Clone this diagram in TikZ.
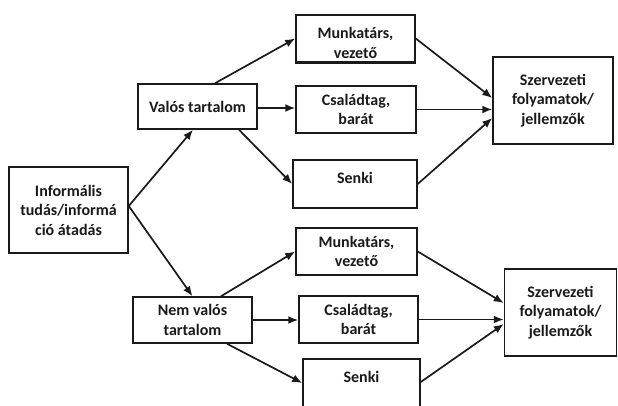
\documentclass[tikz,border=0pt]{standalone}
\usepackage{fontspec}
\setmainfont{Carlito}
\usetikzlibrary{arrows.meta,calc}
\definecolor{ink}{HTML}{1A1A1A}
\tikzset{
  box/.style={draw=ink, line width=1.5pt, fill=white, inner sep=0pt, align=center,
    font=\fontsize{16}{19.5}\selectfont\bfseries, text=ink},
  arr/.style={draw=ink, line width=1.7pt, -{Latex[length=10pt,width=8pt]}},
}
\begin{document}
\begin{tikzpicture}[x=1pt,y=-1pt]
\useasboundingbox[fill=white] (0,0) rectangle (618,405);
% left column
\node[box, minimum width=119pt, minimum height=86pt] (inf) at (68.5,210) {Informális\\tudás/informá\\ció átadás};
\node[box, minimum width=119pt, minimum height=45pt] (val) at (197.5,106.5) {Valós tartalom};
\node[box, minimum width=119pt, minimum height=46pt] (nem) at (192.5,320) {Nem valós\\tartalom};
% top group
\node[box, minimum width=119pt, minimum height=47pt] (m1) at (355.5,38.5) {};
\begin{scope}
  \clip (296,15) rectangle (415,59.5);
  \node[box, draw=none, fill=none] (m1t) at (355.5,43) {Munkatárs,\\vezető};
\end{scope}
\draw[draw=ink, line width=1.5pt] (m1.south west) -- (m1.south east);
\node[box, minimum width=120pt, minimum height=47pt] (c1) at (356,109.5) {Családtag,\\barát};
\node[box, minimum width=124pt, minimum height=48pt, text depth=12pt] (s1) at (355,184) {Senki};
\node[box, minimum width=120pt, minimum height=87pt] (sz1) at (553,100.5) {Szervezeti\\folyamatok/\\jellemzők};
% bottom group
\node[box, minimum width=121pt, minimum height=47pt] (m2) at (356.5,251.5) {Munkatárs,\\vezető};
\node[box, minimum width=119pt, minimum height=47pt] (c2) at (358.5,319.5) {Családtag,\\barát};
\node[box, minimum width=117pt, minimum height=50pt, text depth=14pt] (s2) at (361.5,384) {Senki};
\node[box, minimum width=112pt, minimum height=87pt] (sz2) at (560.5,312.5) {Szervezeti\\folyamatok/\\jellemzők};
% arrows
\coordinate (src) at ([yshift=4pt]inf.east);
\draw[arr] (src) -- ([xshift=-4.5pt]val.south);
\draw[arr] (src) -- (nem.north);
\draw[arr] ([xshift=17.5pt]val.north) -- (m1.west);
\draw[arr] ([yshift=-1.5pt]val.east) -- ([yshift=-1.5pt]val.east -| c1.west);
\draw[arr] ([xshift=41.5pt]val.south) -- (s1.west);
\draw[arr] (m1.east) -- ([yshift=2.5pt]sz1.west);
\draw[arr] (c1.east) -- (c1.east -| sz1.west);
\draw[arr] (s1.east) -- ([yshift=-17.5pt]sz1.west);
\draw[arr] ([xshift=28.5pt]nem.north) -- (m2.west);
\draw[arr] (nem.east) -- (nem.east -| c2.west);
\draw[arr] ([xshift=34.5pt]nem.south) -- ([yshift=1pt]s2.west);
\draw[arr] (m2.east) -- ([yshift=9.5pt]sz2.west);
\draw[arr] (c2.east) -- (c2.east -| sz2.west);
\draw[arr] ([yshift=2pt]s2.east) -- ([yshift=-11.5pt]sz2.west);
\end{tikzpicture}
\end{document}
